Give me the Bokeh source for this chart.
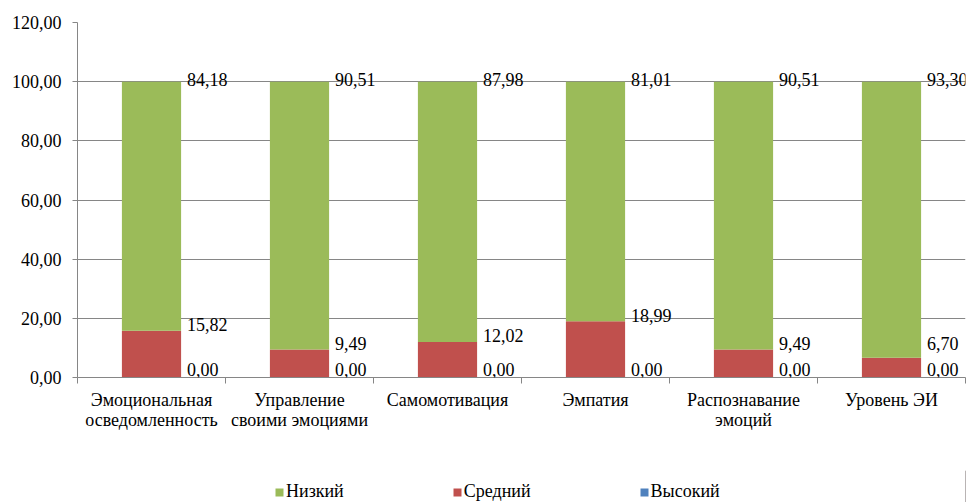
from bokeh.plotting import figure
from bokeh.layouts import column
from bokeh.models import ColumnDataSource, FixedTicker, Legend, LegendItem, Range1d, LabelSet
from bokeh.embed import file_html
from bokeh.resources import INLINE

categories = ["Эмоциональная\nосведомленность", "Управление\nсвоими эмоциями", "Самомотивация",
              "Эмпатия", "Распознавание\nэмоций", "Уровень ЭИ"]
low = [84.18, 90.51, 87.98, 81.01, 90.51, 93.30]
mid = [15.82, 9.49, 12.02, 18.99, 9.49, 6.70]
high = [0.00, 0.00, 0.00, 0.00, 0.00, 0.00]
series_names = ["Низкий", "Средний", "Высокий"]
colors = {"Низкий": "#9BBB59", "Средний": "#C0504D", "Высокий": "#4F81BD"}
y_ticks = [0, 20, 40, 60, 80, 100, 120]

FONT = "serif"
GRAY = "#868686"

def fmt(v):
    return f"{v:.2f}".replace(".", ",")

xs = [i + 0.5 for i in range(len(categories))]
src = ColumnDataSource(dict(x=xs, high=high, mid=mid, low=low))

p = figure(width=973, height=470, output_backend="svg", toolbar_location=None,
           x_range=Range1d(0, len(categories)), y_range=Range1d(0, 120),
           min_border_left=77, min_border_right=8, min_border_top=22, min_border_bottom=93)
p.outline_line_color = None
p.xgrid.grid_line_color = None
p.ygrid.grid_line_color = GRAY
p.ygrid.grid_line_width = 1

renderers = p.vbar_stack(["high", "mid", "low"], x="x", width=0.4, source=src,
                         color=[colors["Высокий"], colors["Средний"], colors["Низкий"]],
                         line_color=None)

# value labels
lab_x = [x + 0.2 for x in xs]
top_src = ColumnDataSource(dict(x=lab_x, y=[h + m + l for h, m, l in zip(high, mid, low)],
                                t=[fmt(v) for v in low]))
mid_src = ColumnDataSource(dict(x=lab_x, y=[max(h + m, 9.5) for h, m in zip(high, mid)],
                                t=[fmt(v) for v in mid]))
bot_src = ColumnDataSource(dict(x=lab_x, y=high, t=[fmt(v) for v in high]))
for s, off in [(top_src, 2), (mid_src, 6), (bot_src, 8)]:
    p.add_layout(LabelSet(x="x", y="y", text="t", source=s, x_offset=6, y_offset=off,
                          text_align="left", text_baseline="middle",
                          text_font=FONT, text_font_size="18px", text_color="#000000"))

# y axis
p.yaxis.ticker = FixedTicker(ticks=y_ticks)
p.yaxis.major_label_overrides = {t: fmt(t) for t in y_ticks}
p.yaxis.major_label_text_font = FONT
p.yaxis.major_label_text_font_size = "18px"
p.yaxis.major_label_text_color = "#000000"
p.yaxis.major_label_standoff = 11
p.yaxis.axis_line_color = GRAY
p.yaxis.major_tick_line_color = GRAY
p.yaxis.major_tick_out = 5
p.yaxis.major_tick_in = 0
p.yaxis.minor_tick_line_color = None

# x axis
p.xaxis.ticker = FixedTicker(ticks=xs, minor_ticks=list(range(len(categories) + 1)))
p.xaxis.major_label_overrides = {x: c for x, c in zip(xs, categories)}
p.xaxis.major_label_text_font = FONT
p.xaxis.major_label_text_font_size = "18px"
p.xaxis.major_label_text_color = "#000000"
p.xaxis.major_label_text_line_height = 1.0
p.xaxis.major_tick_line_color = None
p.xaxis.minor_tick_line_color = GRAY
p.xaxis.minor_tick_out = 6
p.xaxis.minor_tick_in = 0
p.xaxis.axis_line_color = GRAY
p.xaxis.major_label_standoff = 6

# legend strip (swatch renderers sit outside the strip's visible range)
lg = figure(width=973, height=32, output_backend="svg", toolbar_location=None,
            x_range=Range1d(0, 1), y_range=Range1d(0, 1),
            x_axis_type=None, y_axis_type=None, min_border=0)
lg.outline_line_color = None
lg.grid.visible = False
items = []
for n in series_names:
    r = lg.vbar(x=[5], top=[5], width=1, color=colors[n], line_color=None)
    items.append(LegendItem(label=n, renderers=[r]))
legend = Legend(items=items, orientation="horizontal", location=(197, 0),
                label_text_font=FONT, label_text_font_size="18px", label_text_color="#000000",
                glyph_width=10, glyph_height=10, label_standoff=2, spacing=108,
                padding=0, margin=0, border_line_color=None, background_fill_alpha=0)
lg.add_layout(legend, "center")

open("out.html", "w").write(file_html(column(p, lg, spacing=0), INLINE))
